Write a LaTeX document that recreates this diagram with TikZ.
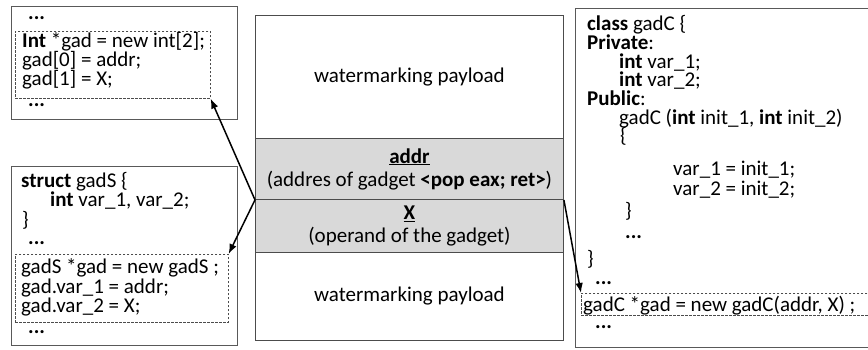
\documentclass[tikz,border=0pt]{standalone}
\usepackage{fontspec}
\setmainfont{Carlito}
\usetikzlibrary{arrows.meta}

\begin{document}
\begin{tikzpicture}[x=1pt, y=-1pt,
		codebox/.style={draw=black!65, line width=0.9pt, inner sep=0pt, anchor=north west},
		newbox/.style={draw=black!70, dash pattern=on 2.5pt off 1.5pt, line width=0.6pt, inner sep=0pt, anchor=north west},
		stackbox/.style={draw=black!70, line width=0.9pt, inner sep=0pt, anchor=north west, minimum width=308pt, align=center, font=\fontsize{21}{23}\selectfont},
		codeline/.style={anchor=base west, inner sep=0pt, font=\fontsize{21}{19}\selectfont},
		ptr/.style={-{Latex[length=10pt, width=7.5pt]}, line width=1.5pt}]
			\useasboundingbox (0,0) rectangle (868,350);
			% the stack in the middle
			\node [stackbox, minimum height=123pt] (payloadtop) at (255,15) {watermarking payload};
			\node [stackbox, minimum height=61pt, fill=black!15] (addrband) at (255,138) {\underline{\textbf{addr}}\\(addres of gadget \textbf{<pop eax; ret>})};
			\node [stackbox, minimum height=53pt, fill=black!15] (xband) at (255,199) {\underline{\textbf{X}}\\(operand of the gadget)};
			\node [stackbox, minimum height=88pt] (payloadbot) at (255,252) {watermarking payload};
			% array version
			\node [codebox, minimum width=226pt, minimum height=113pt] (intbox) at (11,6) {};
			\node [newbox, minimum width=195pt, minimum height=67pt] (intnew) at (15,31) {};
			\foreach \n/\x/\y/\t in {1/28/20/{\textbf{...}}, 2/22/48/{\textbf{Int} *gad = new int[2];},
					3/22/67/{gad[0] = addr;}, 4/22/86/{gad[1] = X;}, 5/28/107/{\textbf{...}}}
				\node [codeline] (intline\n) at (\x,\y) {\t};
			% struct version
			\node [codebox, minimum width=226pt, minimum height=179pt] (structbox) at (11,166) {};
			\node [newbox, minimum width=213pt, minimum height=68pt] (structnew) at (15,254) {};
			\foreach \n/\x/\y/\t in {1/21/187/{\textbf{struct} gadS \{}, 2/50/207/{\textbf{int} var\_1, var\_2;},
					3/22/226/{\}}, 4/28/244/{\textbf{...}}, 5/21/273/{gadS *gad = new gadS ;},
					6/21/293/{gad.var\_1 = addr;}, 7/21/312/{gad.var\_2 = X;}, 8/28/333/{\textbf{...}}}
				\node [codeline] (structline\n) at (\x,\y) {\t};
			% class version
			\node [codebox, minimum width=300pt, minimum height=339pt] (classbox) at (575,8) {};
			\node [newbox, minimum width=290pt, minimum height=22pt] (classnew) at (581,293) {};
			\foreach \n/\x/\y/\t in {1/587/31/{\textbf{class} gadC \{}, 2/587/50/{\textbf{Private}:},
					3/619/69/{\textbf{int} var\_1;}, 4/619/87/{\textbf{int} var\_2;}, 5/587/106/{\textbf{Public}:},
					6/619/125/{gadC (\textbf{int} init\_1, \textbf{int} init\_2)}, 7/620/143/{\{},
					8/673/176/{var\_1 = init\_1;}, 9/673/196/{var\_2 = init\_2;}, 10/625/218/{\}},
					11/625/238/{\textbf{...}}, 12/587/265/{\}}, 13/595/284/{\textbf{...}},
					14/583/311/{gadC *gad = new gadC(addr, X) ;}, 15/595/328/{\textbf{...}}}
				\node [codeline] (classline\n) at (\x,\y) {\t};
			% pointers
			\draw [ptr] (addrband.south west) -- (intnew.south east);
			\draw [ptr] (addrband.south west) -- (structnew.north east);
			\draw [ptr] (addrband.south east) -- (classnew.north west);
		\end{tikzpicture}
\end{document}
